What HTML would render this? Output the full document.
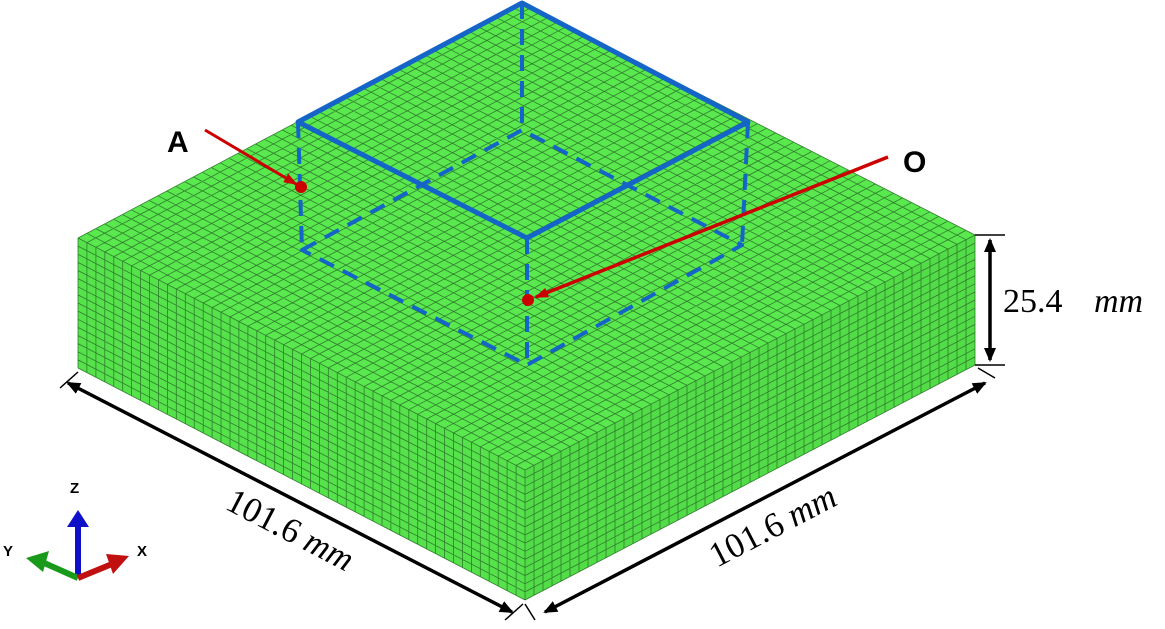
<!DOCTYPE html><html><head><style>body{margin:0;background:#fff}svg{display:block}</style></head><body>
<svg id="s" width="1165" height="629" viewBox="0 0 1165 629" xmlns="http://www.w3.org/2000/svg">
<defs>
<marker id="ab" markerWidth="14" markerHeight="12" refX="12" refY="6" orient="auto-start-reverse" markerUnits="userSpaceOnUse"><path d="M0,0 L14,6 L0,12 z" fill="#000"/></marker>
<marker id="ar" markerWidth="14" markerHeight="10" refX="12" refY="5" orient="auto" markerUnits="userSpaceOnUse"><path d="M0,0 L14,5 L0,10 z" fill="#c00"/></marker>
</defs>
<polygon points="78,238 522,3 975,235 525,470" fill="#5ae84f"/>
<polygon points="78,238 525,470 525,600 78,368" fill="#55e24b"/>
<polygon points="525,470 975,235 975,365 525,600" fill="#52dc48"/>
<g id="grid" stroke="#2f7d2c" stroke-width="0.8" fill="none"></g>
<g stroke="#1565c8" stroke-width="5" fill="none" stroke-linejoin="round">
<polygon points="298,122 522,3 748,122 527,238"/>
<g stroke-dasharray="16,10" stroke-width="4">
<line x1="298" y1="122" x2="302" y2="250"/><line x1="527" y1="238" x2="527" y2="365"/>
<line x1="748" y1="122" x2="742" y2="245"/><line x1="522" y1="3" x2="522" y2="130"/>
<polygon points="302,250 522,130 742,245 527,365"/>
</g></g>
<line x1="205" y1="130" x2="296" y2="184" stroke="#c00" stroke-width="3" marker-end="url(#ar)"/>
<circle cx="301" cy="187" r="6" fill="#c00"/>
<line x1="888" y1="157" x2="536" y2="297" stroke="#c00" stroke-width="3.5" marker-end="url(#ar)"/>
<circle cx="528" cy="300" r="6" fill="#c00"/>
<text x="167" y="152" font-family="Liberation Sans,sans-serif" font-weight="bold" font-size="30">A</text>
<text x="903" y="172" font-family="Liberation Sans,sans-serif" font-weight="bold" font-size="30">O</text>
<g stroke="#000" stroke-width="1.5"><line x1="975" y1="235" x2="1005" y2="235"/><line x1="975" y1="365" x2="1005" y2="365"/>
<line x1="60" y1="388" x2="78" y2="372"/><line x1="505" y1="620" x2="523" y2="604"/><line x1="535" y1="620" x2="525" y2="604"/><line x1="995" y1="378" x2="978" y2="368"/></g>
<line x1="990" y1="240" x2="990" y2="360" stroke="#000" stroke-width="3.5" marker-start="url(#ab)" marker-end="url(#ab)"/>
<line x1="68" y1="383" x2="512" y2="612" stroke="#000" stroke-width="3.5" marker-start="url(#ab)" marker-end="url(#ab)"/>
<line x1="545" y1="612" x2="985" y2="383" stroke="#000" stroke-width="3.5" marker-start="url(#ab)" marker-end="url(#ab)"/>
<text x="1003" y="312" font-family="Liberation Serif,serif" font-size="34">25.4</text>
<text x="1094" y="312" font-family="Liberation Serif,serif" font-style="italic" font-size="34">mm</text>
<text transform="translate(285,540) rotate(27.5)" text-anchor="middle" font-family="Liberation Serif,serif" font-size="35">101.6 <tspan font-style="italic">mm</tspan></text>
<text transform="translate(778,536) rotate(-27.5)" text-anchor="middle" font-family="Liberation Serif,serif" font-size="35">101.6 <tspan font-style="italic">mm</tspan></text>
<g font-family="Liberation Sans,sans-serif" font-weight="bold" font-size="15">
<text x="70" y="493">Z</text><text x="3" y="556">Y</text><text x="137" y="556">X</text></g>
<line x1="78" y1="578" x2="78" y2="522" stroke="#1010c8" stroke-width="6"/><polygon points="67,527 89,527 78,510" fill="#1010c8"/>
<line x1="78" y1="578" x2="42" y2="562" stroke="#1a9a1a" stroke-width="6"/><polygon points="26,558 49,551 43,572" fill="#1a9a1a"/>
<line x1="78" y1="578" x2="112" y2="564" stroke="#c01010" stroke-width="6"/><polygon points="129,556 106,554 113,574" fill="#c01010"/>
</svg>
<script>
var g=document.getElementById('grid'),N=50,H=16;
function P(a,b){return a[0].toFixed(1)+','+a[1].toFixed(1)+' L'+b[0].toFixed(1)+','+b[1].toFixed(1)}
function lerp(a,b,t){return [a[0]+(b[0]-a[0])*t,a[1]+(b[1]-a[1])*t]}
var L=[78,238],B=[522,3],R=[975,235],F=[525,470],Lb=[78,368],Fb=[525,600],Rb=[975,365];
var d='';
for(var i=0;i<=N;i++){var t=i/N;
d+='M'+P(lerp(L,B,t),lerp(F,R,t))+'M'+P(lerp(L,F,t),lerp(B,R,t));
d+='M'+P(lerp(L,F,t),lerp(Lb,Fb,t))+'M'+P(lerp(F,R,t),lerp(Fb,Rb,t));}
for(var j=0;j<=H;j++){var t=j/H;d+='M'+P(lerp(L,Lb,t),lerp(F,Fb,t))+'M'+P(lerp(F,Fb,t),lerp(R,Rb,t));}
var p=document.createElementNS('http://www.w3.org/2000/svg','path');p.setAttribute('d',d);g.appendChild(p);
</script>
</body></html>
